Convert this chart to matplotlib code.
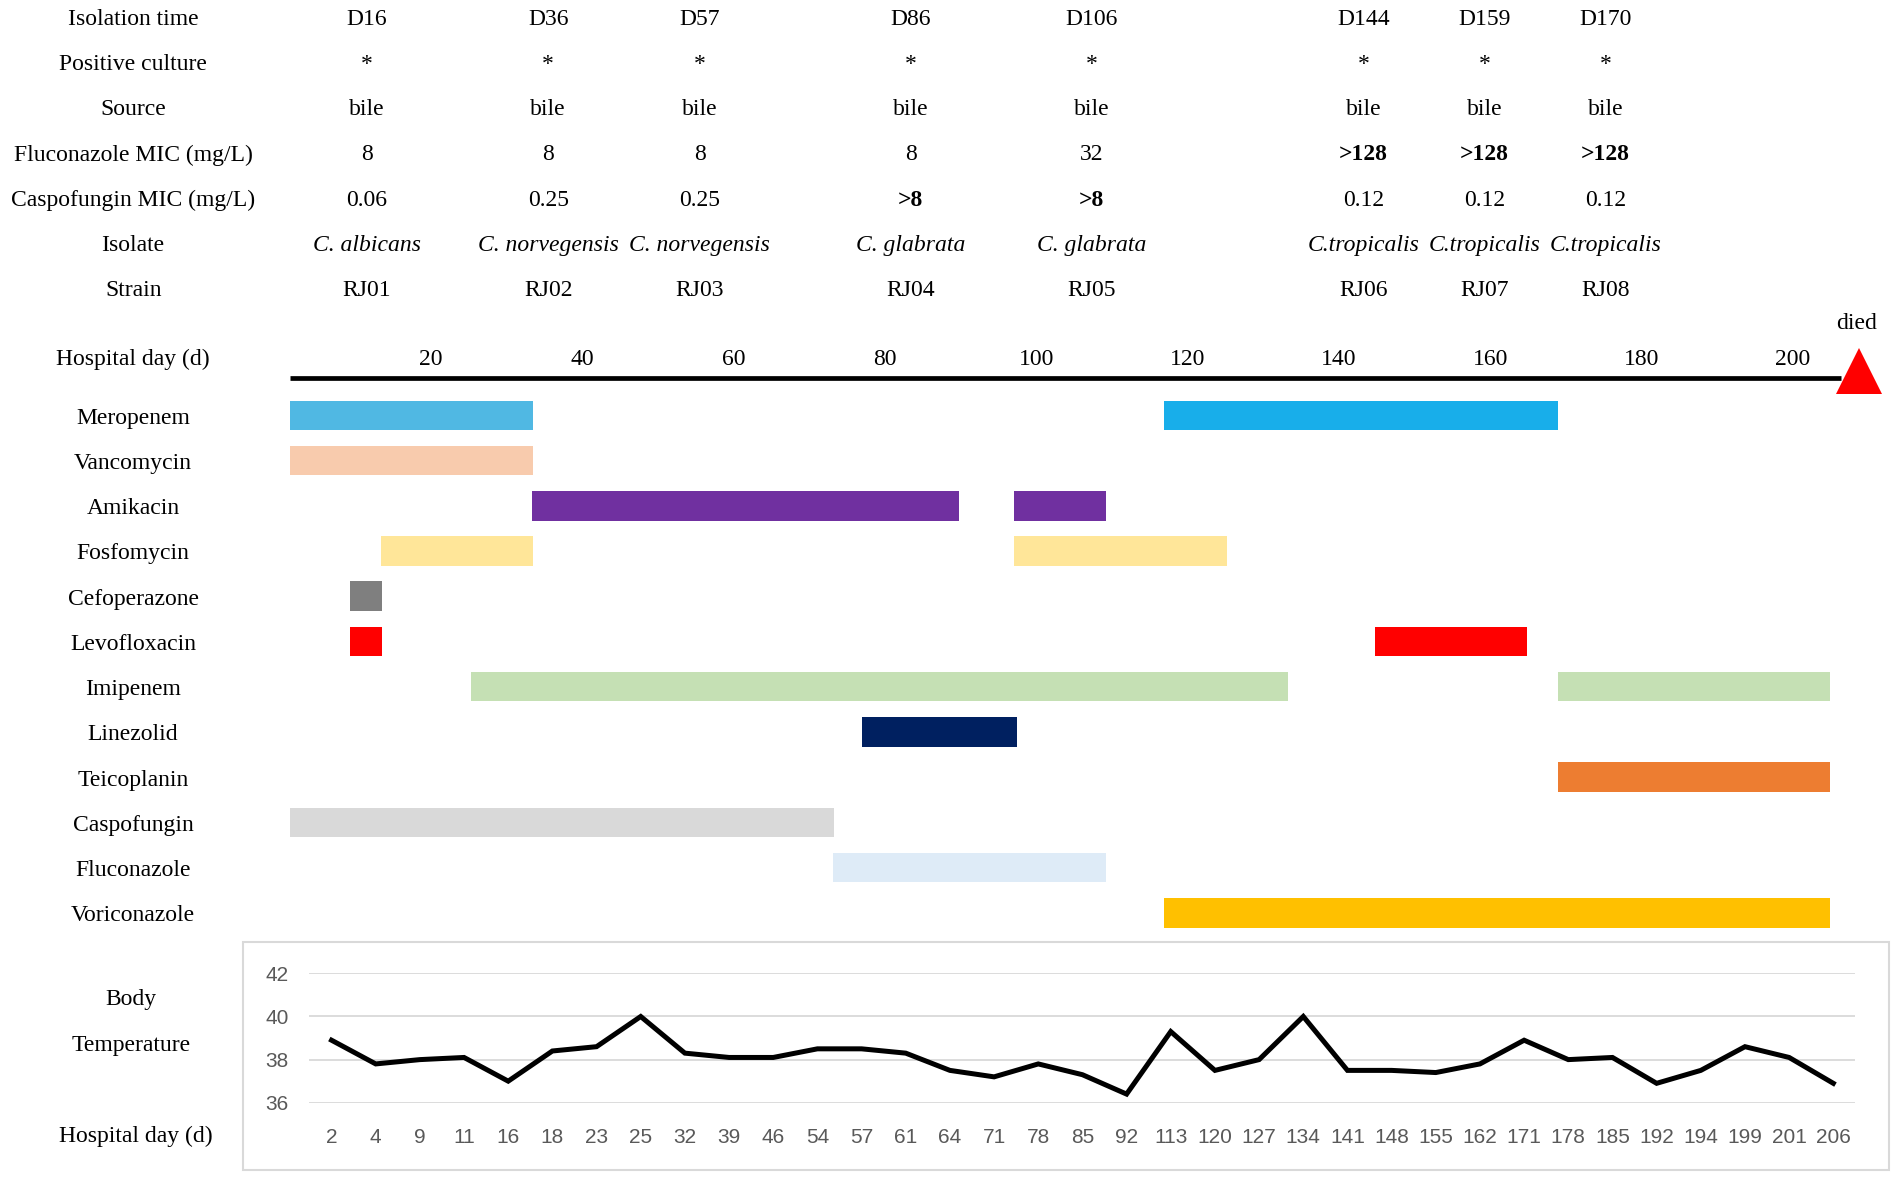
"""Timeline of antimicrobial therapy, Candida isolates and body temperature."""
import matplotlib.pyplot as plt
from matplotlib.patches import Rectangle

# ---- isolate table ----
row_names = ["Isolation time", "Positive culture", "Source",
             "Fluconazole MIC (mg/L)", "Caspofungin MIC (mg/L)",
             "Isolate", "Strain"]
isolation_time = ["D16", "D36", "D57", "D86", "D106", "D144", "D159", "D170"]
positive_culture = ["*", "*", "*", "*", "*", "*", "*", "*"]
source = ["bile", "bile", "bile", "bile", "bile", "bile", "bile", "bile"]
fluconazole_mic = ["8", "8", "8", "8", "32", ">128", ">128", ">128"]
caspofungin_mic = ["0.06", "0.25", "0.25", ">8", ">8", "0.12", "0.12", "0.12"]
isolates = ["C. albicans", "C. norvegensis", "C. norvegensis", "C. glabrata",
            "C. glabrata", "C.tropicalis", "C.tropicalis", "C.tropicalis"]
strains = ["RJ01", "RJ02", "RJ03", "RJ04", "RJ05", "RJ06", "RJ07", "RJ08"]

# ---- drug courses (start day, end day) ----
drugs = ["Meropenem", "Vancomycin", "Amikacin", "Fosfomycin", "Cefoperazone",
         "Levofloxacin", "Imipenem", "Linezolid", "Teicoplanin",
         "Caspofungin", "Fluconazole", "Voriconazole"]
courses = [
    [(1.3, 33.5), (116.9, 169.0)],
    [(1.3, 33.5)],
    [(33.3, 89.8), (97.0, 109.2)],
    [(13.3, 33.5), (97.0, 125.2)],
    [(9.3, 13.5)],
    [(9.3, 13.5), (144.8, 164.9)],
    [(25.2, 133.3), (168.9, 204.9)],
    [(77.0, 97.4)],
    [(168.9, 204.9)],
    [(1.3, 73.3)],
    [(73.1, 109.2)],
    [(116.9, 204.9)],
]
course_colors = [
    ["#50B8E3", "#18AEEA"],
    ["#F8CBAD"],
    ["#7030A0", "#7030A0"],
    ["#FFE699", "#FFE699"],
    ["#7F7F7F"],
    ["#FF0000", "#FF0000"],
    ["#C5E0B4", "#C5E0B4"],
    ["#002060"],
    ["#ED7D31"],
    ["#D9D9D9"],
    ["#DEEBF7"],
    ["#FFC000"],
]
day_ticks = [20, 40, 60, 80, 100, 120, 140, 160, 180, 200]
timeline_start = 1.3
timeline_end = 206.4
died_day = 208.8

# ---- body temperature ----
temp_days = ["2", "4", "9", "11", "16", "18", "23", "25", "32", "39", "46",
             "54", "57", "61", "64", "71", "78", "85", "92", "113", "120",
             "127", "134", "141", "148", "155", "162", "171", "178", "185",
             "192", "194", "199", "201", "206"]
temps = [38.9, 37.8, 38.0, 38.1, 37.0, 38.4, 38.6, 40.0, 38.3, 38.1, 38.1,
         38.5, 38.5, 38.3, 37.5, 37.2, 37.8, 37.3, 36.4, 39.3, 37.5,
         38.0, 40.0, 37.5, 37.5, 37.4, 37.8, 38.9, 38.0, 38.1,
         36.9, 37.5, 38.6, 38.1, 36.9]

W, H = 1902, 1178
SERIF = "Liberation Serif"
FS = 17
DY = 3  # text sits a bit lower than its centre line

fig = plt.figure(figsize=(W / 100, H / 100), dpi=100)


def fy(py):
    """Pixel row (from top) to figure fraction, for text."""
    return 1 - (py + DY) / H


# table
label_x = 0.070
col_x = [0.1930, 0.2882, 0.3678, 0.4789, 0.5740, 0.7168, 0.7805, 0.8442]
table_rows = [isolation_time, positive_culture, source, fluconazole_mic,
              caspofungin_mic, isolates, strains]
for j, (name, values) in enumerate(zip(row_names, table_rows)):
    y = fy(16.7 + 45.1 * j)
    fig.text(label_x, y, name, family=SERIF, fontsize=FS,
             ha="center", va="center")
    for x, v in zip(col_x, values):
        weight = "bold" if v.startswith(">") else "normal"
        style = "italic" if name == "Isolate" else "normal"
        fig.text(x, y, v, family=SERIF, fontsize=FS, ha="center",
                 va="center", fontweight=weight, fontstyle=style)

# gantt part: x in hospital days, y in drug rows
ax = fig.add_axes([0, 0, 1, 1])
ax.set_xlim(-279.9 / 7.565, (W - 279.9) / 7.565)
ax.set_ylim((H - 415.3) / 45.23, -415.3 / 45.23)
ax.axis("off")

axis_y = (377.7 - 415.3) / 45.23
ax.plot([timeline_start, timeline_end], [axis_y, axis_y], color="black",
        lw=3.4, solid_capstyle="butt")
ax.plot(died_day, (371 - 415.3) / 45.23, marker="^", markersize=33,
        color="#FF0000", markeredgewidth=0)
ax.text(208.4, (320.7 + DY - 415.3) / 45.23, "died", family=SERIF,
        fontsize=FS, ha="center", va="center")
tick_y = (356 + DY - 415.3) / 45.23
for d in day_ticks:
    ax.text(d, tick_y, str(d), family=SERIF, fontsize=FS,
            ha="center", va="center")
fig.text(label_x, fy(356), "Hospital day (d)", family=SERIF, fontsize=FS,
         ha="center", va="center")

for k, (drug, spans, cols) in enumerate(zip(drugs, courses, course_colors)):
    for (s, e), c in zip(spans, cols):
        ax.barh(k, e - s, left=s, height=0.652, color=c)
    fig.text(label_x, fy(415.3 + 45.23 * k), drug, family=SERIF,
             fontsize=FS, ha="center", va="center")

# temperature chart
fig.patches.append(Rectangle((0.1275, 0.007), 0.8655, 0.1936,
                             transform=fig.transFigure, fill=False,
                             edgecolor="#D9D9D9", lw=1.5))
ax2 = fig.add_axes([0.1627, 0.0639, 0.8128, 0.1098])
ax2.plot(range(len(temps)), temps, color="black", lw=3.6,
         solid_joinstyle="miter")
ax2.set_xlim(-0.5, len(temps) - 0.5)
ax2.set_ylim(36, 42)
ax2.set_yticks([36, 38, 40, 42])
ax2.set_xticks(range(len(temp_days)))
ax2.set_xticklabels(temp_days)
ax2.grid(axis="y", color="#D9D9D9", lw=1.3)
ax2.set_axisbelow(True)
for sp in ax2.spines.values():
    sp.set_visible(False)
ax2.tick_params(length=0, labelsize=15, labelcolor="#595959")
ax2.tick_params(axis="y", pad=15)
ax2.tick_params(axis="x", pad=18)
for lab in ax2.get_xticklabels() + ax2.get_yticklabels():
    lab.set_family("Liberation Sans")

fig.text(0.0689, fy(996.7), "Body", family=SERIF, fontsize=FS,
         ha="center", va="center")
fig.text(0.0689, fy(1042.7), "Temperature", family=SERIF, fontsize=FS,
         ha="center", va="center")
fig.text(0.0715, fy(1133.3), "Hospital day (d)", family=SERIF, fontsize=FS,
         ha="center", va="center")

fig.savefig("out.png", dpi=100)
